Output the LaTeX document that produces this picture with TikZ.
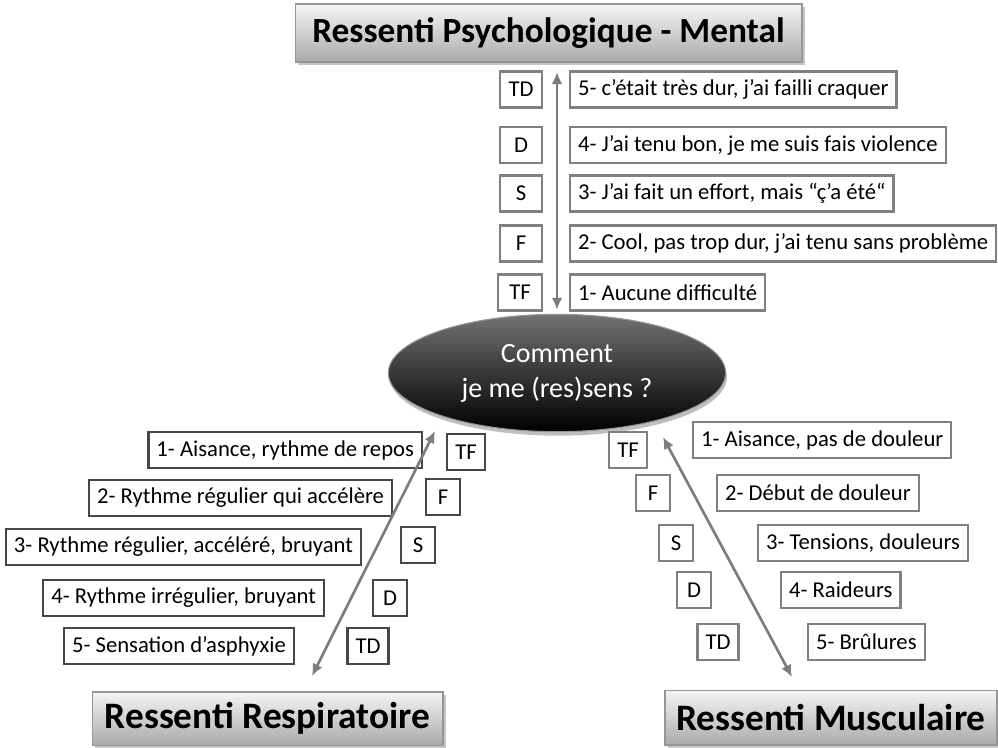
\documentclass[tikz,border=0pt]{standalone}
\usepackage{fontspec}
\setmainfont{Carlito}
\usepackage{tikz}
\usetikzlibrary{arrows.meta, positioning}
\usetikzlibrary{shapes.geometric}
\usetikzlibrary{shadows}

\begin{document}
\begin{tikzpicture}[x=0.75pt,y=0.75pt,yscale=-1,xscale=1,
  txtbox/.style={draw={rgb, 255:red, 128; green, 128; blue, 128 }, line width=1.6pt, fill=white, minimum height=27pt, inner xsep=6pt, font=\fontsize{17}{20}\selectfont},
  darkbox/.style={txtbox, draw={rgb, 255:red, 70; green, 70; blue, 70 }},
  lvl/.style={txtbox, minimum width=25pt, inner xsep=6pt},
  darklvl/.style={darkbox, minimum width=25pt, inner xsep=6pt},
  titre/.style={draw={rgb, 255:red, 150; green, 150; blue, 150 }, line width=1pt, top color={rgb, 255:red, 245; green, 245; blue, 245 }, bottom color={rgb, 255:red, 170; green, 170; blue, 170 }, font=\bfseries\fontsize{28}{33}\selectfont, drop shadow={shadow xshift=2pt, shadow yshift=-2pt, opacity=0.45}},
  axis/.style={draw={rgb, 255:red, 125; green, 125; blue, 125 }, line width=2pt, {Latex[length=9pt,width=8pt]}-{Latex[length=9pt,width=8pt]}}
]
\useasboundingbox (0,0) rectangle (998,747);

%Shape: Ellipse [id:centre]
\draw (557,373) node (centre) [ellipse, minimum width=253pt, minimum height=88pt, inner sep=0pt, draw={rgb, 255:red, 150; green, 150; blue, 150 }, line width=0.8pt, top color={rgb, 255:red, 115; green, 115; blue, 115 }, bottom color=black, middle color={rgb, 255:red, 55; green, 55; blue, 55 }, drop shadow={shadow xshift=1pt, shadow yshift=-3pt, opacity=0.5}, text=white, align=center, font=\fontsize{21}{26}\selectfont] {Comment\\ je me (res)sens ?};

% Text Node
\draw (548.5,33) node (mental) [titre, minimum width=380pt, minimum height=43.5pt, font=\bfseries\fontsize{26.5}{31}\selectfont] {Ressenti Psychologique - Mental};
% Text Node
\draw (267.5,718.5) node (respi) [titre, minimum width=263pt, minimum height=40pt] {Ressenti Respiratoire};
% Text Node
\draw (831,717.5) node (muscu) [titre, minimum width=249pt, minimum height=41pt] {Ressenti Musculaire};

%Mental: levels
\draw (569,89.5) node (m5) [txtbox, anchor=west] {5- c’était très dur, j’ai failli craquer};
\draw (569,145) node (m4) [txtbox, anchor=west] {4- J’ai tenu bon, je me suis fais violence};
\draw (569,193.5) node (m3) [txtbox, anchor=west] {3- J’ai fait un effort, mais “ç’a été“};
\draw (569,243.5) node (m2) [txtbox, anchor=west] {2- Cool, pas trop dur, j’ai tenu sans problème};
\draw (569,292.5) node (m1) [txtbox, anchor=west] {1- Aucune difficulté};
\draw (521,89.5) node (mTD) [lvl, minimum width=31.5pt] {TD};
\draw (521,145) node (mD) [lvl, minimum width=31.5pt] {D};
\draw (521,193.5) node (mS) [lvl, minimum width=31.5pt] {S};
\draw (521,243.5) node (mF) [lvl, minimum width=31.5pt] {F};
\draw (520,292.5) node (mTF) [lvl, minimum width=32.5pt] {TF};

%Respiratoire: levels
\draw (423,450) node (r1) [darkbox, anchor=east] {1- Aisance, rythme de repos};
\draw (393,498) node (r2) [darkbox, anchor=east] {2- Rythme régulier qui accélère};
\draw (362,547) node (r3) [darkbox, anchor=east] {3- Rythme régulier, accéléré, bruyant};
\draw (325,598) node (r4) [darkbox, anchor=east] {4- Rythme irrégulier, bruyant};
\draw (295,646) node (r5) [darkbox, anchor=east] {5- Sensation d’asphyxie};
\draw (466,452) node (rTF) [darklvl] {TF};
\draw (443,497) node (rF) [darklvl] {F};
\draw (418,545) node (rS) [darklvl] {S};
\draw (390,598) node (rD) [darklvl] {D};
\draw (368,646) node (rTD) [darklvl] {TD};

%Musculaire: levels
\draw (692,440) node (u1) [txtbox, anchor=west] {1- Aisance, pas de douleur};
\draw (716,493) node (u2) [txtbox, anchor=west] {2- Début de douleur};
\draw (757,543) node (u3) [txtbox, anchor=west] {3- Tensions, douleurs};
\draw (780,590) node (u4) [txtbox, anchor=west] {4- Raideurs};
\draw (807,642) node (u5) [txtbox, anchor=west] {5- Brûlures};
\draw (628,450) node (uTF) [lvl] {TF};
\draw (653,493) node (uF) [lvl] {F};
\draw (676,543) node (uS) [lvl] {S};
\draw (694,590) node (uD) [lvl] {D};
\draw (718,642) node (uTD) [lvl] {TD};

%Straight Lines: scales
\coordinate (mentalEnd) at (557,72);
\coordinate (respiTip) at (435,431);
\coordinate (respiEnd) at (312,676);
\coordinate (muscuTip) at (663,437);
\coordinate (muscuEnd) at (792,677);
\draw [axis, shorten >=3pt] (mentalEnd) -- (centre.north);
\draw [axis] (respiEnd) -- (respiTip);
\draw [axis] (muscuEnd) -- (muscuTip);

\end{tikzpicture}
\end{document}
